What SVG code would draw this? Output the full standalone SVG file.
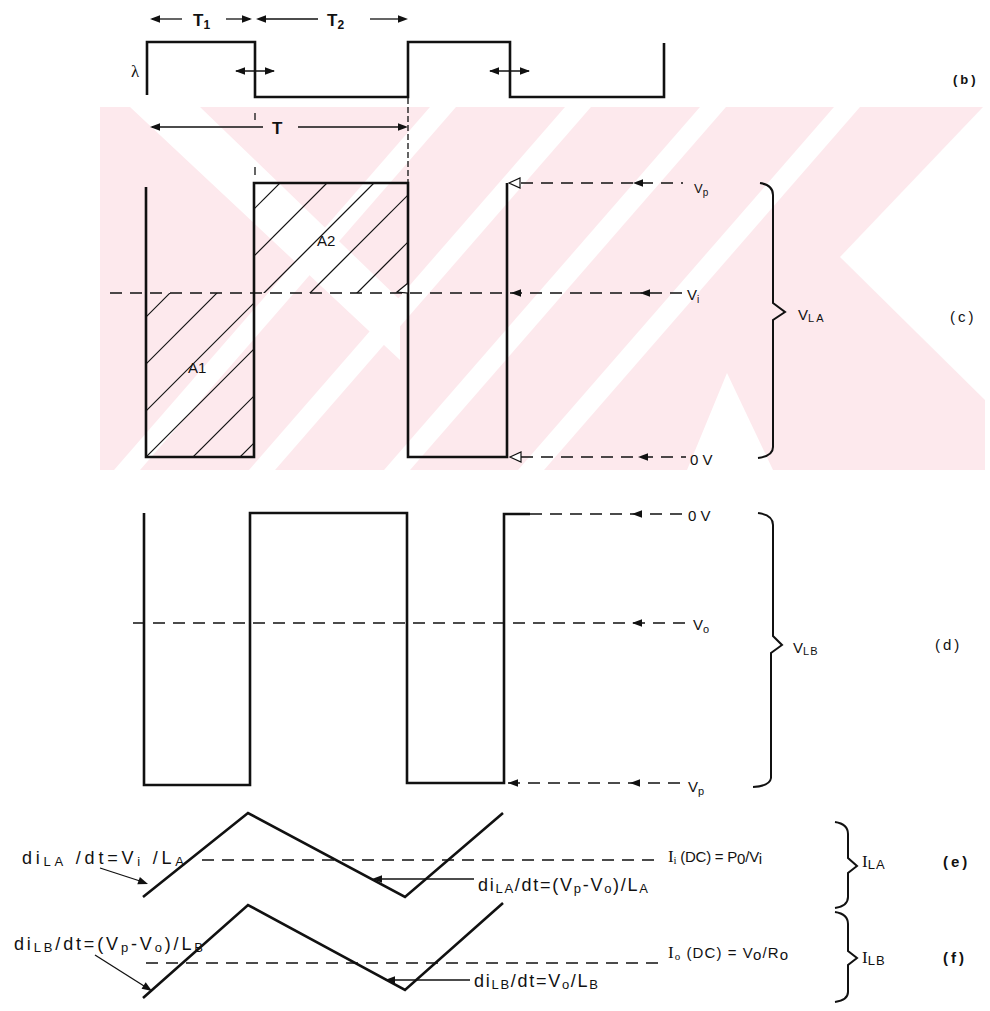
<svg xmlns="http://www.w3.org/2000/svg" xmlns:xlink="http://www.w3.org/1999/xlink" width="990" height="1011" viewBox="0 0 990 1011">
<style>
.w{fill:none;stroke:#111;stroke-width:2.6;stroke-linejoin:miter}
.t{fill:none;stroke:#111;stroke-width:1.3}
.d{fill:none;stroke:#111;stroke-width:1.4;stroke-dasharray:12 8}
.h{fill:none;stroke:#111;stroke-width:1.2}
.br{fill:none;stroke:#111;stroke-width:2}
.lb{font-family:"Liberation Sans",Arial,sans-serif;font-size:15px;fill:#111}
.eq{font-family:"Liberation Sans",Arial,sans-serif;font-size:18px;fill:#111}
.sm{font-family:"Liberation Sans",Arial,sans-serif;font-size:13px;fill:#111}
.bd{font-family:"Liberation Sans",Arial,sans-serif;font-size:17px;font-weight:bold;fill:#111}
.se{font-family:"Liberation Serif","Times New Roman",serif;font-size:17px;fill:#111}
.wm{fill:#fde9ed}
.wh{fill:#fff}
</style>
<defs>
<path id="ahL" d="M0,0 L10,-3.8 L10,3.8 Z" fill="#111"/>
<path id="ahR" d="M0,0 L-10,-3.8 L-10,3.8 Z" fill="#111"/>
<path id="ahH" d="M0,0 L11,-5 L11,5 Z" fill="#fff" stroke="#111" stroke-width="1.2"/>
<clipPath id="hatchClip">
<rect x="146" y="293" width="108" height="164"/>
<rect x="254" y="183" width="154" height="110"/>
</clipPath>
</defs>

<g id="watermark">
<rect class="wm" x="100" y="107" width="885" height="363"/>
<polygon class="wh" points="130,107 200,107 400,300 400,360"/>
<polygon class="wh" points="430,107 456,107 140,470 114,470"/>
<polygon class="wh" points="565,107 591,107 275,470 249,470"/>
<polygon class="wh" points="700,107 726,107 410,470 384,470"/>
<polygon class="wh" points="834,107 860,107 544,470 518,470"/>
<polygon class="wh" points="983,107 990,107 990,405 840,257"/>
<polygon class="wh" points="687,470 727,373 773,470"/>
</g>

<g id="panel-b">
<path class="w" d="M147,95 V42 H255 V97 H408 V42 H510 V97 H664 V43"/>
<text class="se" x="131" y="77" font-size="16">λ</text>
<line class="t" x1="152" y1="19" x2="182" y2="19"/>
<use href="#ahL" x="150" y="19"/>
<text class="bd" x="193" y="26">T<tspan font-size="12" dy="3">1</tspan></text>
<line class="t" x1="226" y1="19" x2="250" y2="19"/>
<use href="#ahR" x="252" y="19"/>
<use href="#ahL" x="256" y="19"/>
<line class="t" x1="262" y1="19" x2="318" y2="19"/>
<text class="bd" x="327" y="26">T<tspan font-size="12" dy="3">2</tspan></text>
<line class="t" x1="370" y1="19" x2="402" y2="19"/>
<use href="#ahR" x="408" y="19"/>
<line class="t" x1="236" y1="71" x2="274" y2="71"/>
<use href="#ahL" x="235" y="71"/>
<use href="#ahR" x="275" y="71"/>
<line class="t" x1="490" y1="71" x2="529" y2="71"/>
<use href="#ahL" x="489" y="71"/>
<use href="#ahR" x="530" y="71"/>
<line class="t" x1="152" y1="127" x2="263" y2="127"/>
<use href="#ahL" x="150" y="127"/>
<text class="bd" x="272" y="134" font-size="18">T</text>
<line class="t" x1="298" y1="127" x2="402" y2="127"/>
<use href="#ahR" x="408" y="127"/>
<line class="t" x1="255" y1="113" x2="255" y2="120"/>
<line class="t" x1="255" y1="167" x2="255" y2="175"/>
<line class="t" x1="408" y1="98" x2="408" y2="182" stroke-dasharray="6 3"/>
<text class="sm" x="953" y="84" font-size="14" font-weight="bold" letter-spacing="3">(b)</text>
</g>

<g id="panel-c">
<g clip-path="url(#hatchClip)">
<line class="h" x1="283" y1="180" x2="3" y2="460"/>
<line class="h" x1="330" y1="180" x2="50" y2="460"/>
<line class="h" x1="377" y1="180" x2="97" y2="460"/>
<line class="h" x1="423" y1="180" x2="143" y2="460"/>
<line class="h" x1="470" y1="180" x2="190" y2="460"/>
<line class="h" x1="517" y1="180" x2="237" y2="460"/>
</g>
<path class="w" d="M146,187 V457 H254 V183 H408 V457 H507 V183"/>
<text class="lb" x="188" y="373">A1</text>
<text class="lb" x="317" y="246">A2</text>
<polygon points="397,292 408,283 408,293" fill="#fff" stroke="#111" stroke-width="1.2"/>
<text class="lb" x="950" y="322" letter-spacing="3">(c)</text>
</g>

<g id="panel-d">
<path class="w" d="M144,513 V785 H250 V513 H407 V783 H504 V514 H530"/>
<text class="lb" x="935" y="650" letter-spacing="3">(d)</text>
</g>

<g id="panel-e">
<path class="w" stroke-width="2.4" d="M143,897 L248,813 L405,897 L503,813"/>
<text class="eq" x="22" y="864" textLength="162" lengthAdjust="spacing">di<tspan font-size="13" dy="2">LA</tspan><tspan dy="-2"> /dt=V</tspan><tspan font-size="13" dy="2">i</tspan><tspan dy="-2"> /L</tspan><tspan font-size="13" dy="2">A</tspan></text>
<text class="eq" x="478" y="891" textLength="170" lengthAdjust="spacing">di<tspan font-size="13" dy="2">LA</tspan><tspan dy="-2">/dt=(V</tspan><tspan font-size="13" dy="2">p</tspan><tspan dy="-2">-V</tspan><tspan font-size="13" dy="2">o</tspan><tspan dy="-2">)/L</tspan><tspan font-size="13" dy="2">A</tspan></text>
<text class="se" x="668" y="862" font-size="17" textLength="94" lengthAdjust="spacing">I<tspan font-size="11" dy="2">i</tspan><tspan class="lb" dy="-2" font-size="14"> (DC) = P</tspan><tspan class="lb" font-size="10" dy="2">0</tspan><tspan class="lb" dy="-2" font-size="14">/V</tspan><tspan class="lb" font-size="10" dy="2">i</tspan></text>
<text class="se" x="862" y="867" font-size="18">I<tspan class="sm" font-size="11" dy="2" letter-spacing="1">LA</tspan></text>
<text class="lb" x="943" y="867" font-weight="bold" letter-spacing="3">(e)</text>
</g>

<g id="panel-f">
<path class="w" stroke-width="2.4" d="M143,998 L248,905 L405,990 L503,903"/>
<text class="eq" x="14" y="950" textLength="189" lengthAdjust="spacing">di<tspan font-size="13" dy="2">LB</tspan><tspan dy="-2">/dt=(V</tspan><tspan font-size="13" dy="2">p</tspan><tspan dy="-2">-V</tspan><tspan font-size="13" dy="2">o</tspan><tspan dy="-2">)/L</tspan><tspan font-size="13" dy="2">B</tspan></text>
<text class="eq" x="474" y="987" textLength="124" lengthAdjust="spacing">di<tspan font-size="13" dy="2">LB</tspan><tspan dy="-2">/dt=V</tspan><tspan font-size="13" dy="2">o</tspan><tspan dy="-2">/L</tspan><tspan font-size="13" dy="2">B</tspan></text>
<text class="se" x="668" y="958" font-size="17" textLength="120" lengthAdjust="spacing">I<tspan font-size="11" dy="2">o</tspan><tspan class="lb" dy="-2" font-size="14"> (DC) = V</tspan><tspan class="lb" font-size="10" dy="2">o</tspan><tspan class="lb" dy="-2" font-size="14">/R</tspan><tspan class="lb" font-size="10" dy="2">o</tspan></text>
<text class="se" x="862" y="963" font-size="18">I<tspan class="sm" font-size="11" dy="2" letter-spacing="1">LB</tspan></text>
<text class="lb" x="943" y="963" font-weight="bold" letter-spacing="3">(f)</text>
</g>

<g id="levels">
<text class="sm" x="694" y="193">V<tspan font-size="10" dy="3">p</tspan></text>
<text class="lb" x="687" y="300" font-size="17">V<tspan font-size="10" dy="3">i</tspan></text>
<text class="lb" x="690" y="465" font-size="16">0 V</text>
<text class="lb" x="798" y="320">V<tspan font-size="11" dy="2" letter-spacing="2">LA</tspan></text>
<text class="lb" x="688" y="521" font-size="16">0 V</text>
<text class="lb" x="693" y="630" font-size="16">V<tspan font-size="11" dy="3">o</tspan></text>
<text class="lb" x="688" y="792" font-size="16">V<tspan font-size="11" dy="3">p</tspan></text>
<text class="lb" x="793" y="653">V<tspan font-size="11" dy="2" letter-spacing="1">LB</tspan></text>
</g>

<g id="connectors">
<line class="d" x1="521" y1="183" x2="683" y2="183"/>
<use href="#ahH" x="509" y="183"/>
<use href="#ahL" x="633" y="183"/>
<line class="d" x1="110" y1="293" x2="684" y2="293"/>
<use href="#ahL" x="511" y="293"/>
<use href="#ahL" x="640" y="293"/>
<line class="d" x1="521" y1="457" x2="686" y2="457"/>
<use href="#ahH" x="510" y="457"/>
<use href="#ahL" x="638" y="457"/>
<line class="d" x1="530" y1="514" x2="683" y2="514"/>
<use href="#ahL" x="632" y="514"/>
<line class="d" x1="133" y1="623" x2="692" y2="623"/>
<use href="#ahL" x="632" y="623"/>
<line class="d" x1="508" y1="783" x2="683" y2="783"/>
<use href="#ahL" x="508" y="783"/>
<use href="#ahL" x="630" y="783"/>
<path class="br" d="M760,183 Q773,185 773,195 V303 L785,312 L773,320 V447 Q773,456 758,458"/>
<path class="br" d="M758,513 Q773,515 773,525 V636 L782,645 L771,653 V778 Q770,786 753,787"/>
<line class="d" x1="202" y1="860" x2="662" y2="860"/>
<line class="t" x1="100" y1="868" x2="140" y2="881"/>
<use href="#ahL" x="148" y="884" transform="rotate(200 148 884)"/>
<line class="t" x1="382" y1="879" x2="474" y2="879"/>
<use href="#ahL" x="372" y="879"/>
<path class="br" d="M835,822 Q848,824 848,834 V858 L857,866 L848,873 V897 Q848,906 835,908"/>
<line class="d" x1="146" y1="963" x2="662" y2="963"/>
<line class="t" x1="95" y1="955" x2="144" y2="986"/>
<use href="#ahL" x="152" y="991" transform="rotate(213 152 991)"/>
<line class="t" x1="395" y1="980" x2="470" y2="980"/>
<use href="#ahL" x="385" y="980"/>
<path class="br" d="M835,912 Q848,914 848,924 V951 L857,958 L848,965 V992 Q848,1000 835,1002"/>
</g>
</svg>
